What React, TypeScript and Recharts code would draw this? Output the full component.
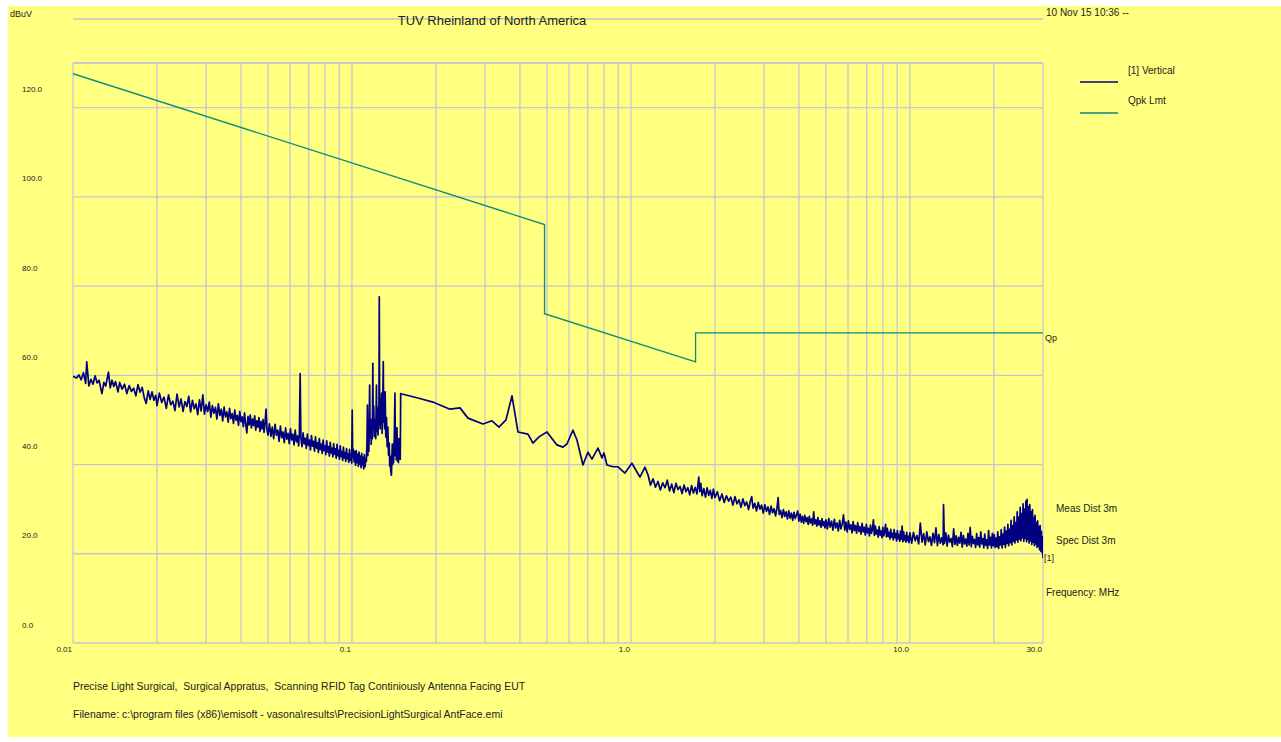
import React from "react";
import { LineChart, Line, XAxis, YAxis, CartesianGrid, ReferenceLine } from "recharts";

// frequency grid (MHz) - log decades with minor lines
const freqGrid = [
  0.01, 0.02, 0.03, 0.04, 0.05, 0.06, 0.07, 0.08, 0.09,
  0.1, 0.2, 0.3, 0.4, 0.5, 0.6, 0.7, 0.8, 0.9,
  1, 2, 3, 4, 5, 6, 7, 8, 9,
  10, 20, 30,
];
const freqMajor = [0.01, 0.1, 1, 10, 30];
const freqLabels = ["0.01", "0.1", "1.0", "10.0", "30.0"];

const levelTicks = [0, 20, 40, 60, 80, 100, 120];
const levelLabels = ["0.0", "20.0", "40.0", "60.0", "80.0", "100.0", "120.0"];

// Qpk limit, dBuV/m at 3m
const limitPoints: [number, number][] = [
  [0.01, 127.6], [0.49, 93.8], [0.49, 73.8], [1.705, 63.0], [1.705, 69.5], [30, 69.5],
];

// [1] Vertical sweep: 10 kHz - 150 kHz
const sweepLow: [number, number][] = [
  [0.0100, 59.8], [0.0103, 59.4], [0.0105, 60.1], [0.0107, 59.0], [0.0109, 60.6], [0.0111, 58.2],
  [0.0112, 63.0], [0.0114, 57.6], [0.0116, 59.1], [0.0118, 58.0], [0.0120, 59.9], [0.0122, 58.3],
  [0.0124, 58.9], [0.0126, 56.8], [0.0127, 55.9], [0.0129, 58.4], [0.0131, 57.6], [0.0134, 60.7],
  [0.0136, 57.2], [0.0138, 58.9], [0.0140, 57.5], [0.0142, 58.6], [0.0145, 56.3], [0.0147, 58.4],
  [0.0150, 56.9], [0.0153, 58.0], [0.0156, 55.9], [0.0159, 57.7], [0.0162, 56.4], [0.0165, 57.1],
  [0.0168, 55.4], [0.0171, 57.9], [0.0174, 56.2], [0.0177, 57.3], [0.0180, 55.0], [0.0183, 53.7],
  [0.0186, 56.5], [0.0189, 54.6], [0.0192, 56.3], [0.0195, 54.4], [0.0198, 55.5],
  [0.0200, 53.2], [0.0204, 56.0], [0.0208, 53.9], [0.0212, 55.1], [0.0216, 52.6], [0.0220, 55.6],
  [0.0224, 53.4], [0.0228, 54.2], [0.0232, 52.1], [0.0236, 55.8], [0.0240, 52.9], [0.0244, 54.7],
  [0.0248, 51.9], [0.0252, 54.1], [0.0256, 53.0], [0.0260, 55.3], [0.0264, 51.8], [0.0268, 54.4],
  [0.0272, 52.5], [0.0276, 53.6], [0.0280, 51.2], [0.0284, 54.5], [0.0288, 52.0], [0.0292, 55.6],
  [0.0296, 51.3], [0.0300, 53.4], [0.0304, 51.9], [0.0308, 54.0], [0.0312, 50.6], [0.0316, 53.2],
  [0.0320, 51.5], [0.0324, 52.8], [0.0328, 50.2], [0.0332, 53.6], [0.0336, 51.0], [0.0340, 52.4],
  [0.0344, 49.8], [0.0348, 52.9], [0.0352, 50.7], [0.0356, 51.8], [0.0360, 49.5], [0.0364, 52.6],
  [0.0368, 50.3], [0.0372, 51.4], [0.0376, 49.2], [0.0380, 52.2], [0.0384, 49.9], [0.0388, 51.0],
  [0.0392, 48.8], [0.0396, 51.9], [0.0400, 49.6], [0.0404, 50.7], [0.0408, 48.5], [0.0412, 51.6],
  [0.0416, 49.0], [0.0420, 47.1], [0.0424, 50.8], [0.0428, 48.9], [0.0432, 51.1], [0.0436, 48.2],
  [0.0440, 50.2], [0.0444, 48.7], [0.0448, 50.9], [0.0452, 47.7], [0.0456, 49.8], [0.0460, 48.4],
  [0.0464, 50.5], [0.0468, 47.4], [0.0472, 49.6], [0.0476, 48.0], [0.0480, 50.1], [0.0484, 47.2],
  [0.0488, 49.3], [0.0492, 52.4], [0.0496, 47.8], [0.0500, 46.6],
  [0.0506, 49.1], [0.0512, 46.3], [0.0518, 48.4], [0.0524, 45.8], [0.0530, 49.0], [0.0536, 46.6],
  [0.0542, 47.7], [0.0548, 45.2], [0.0554, 48.6], [0.0560, 46.0], [0.0566, 47.3], [0.0572, 44.9],
  [0.0578, 48.2], [0.0584, 45.7], [0.0590, 47.0], [0.0596, 44.7], [0.0602, 48.0], [0.0608, 45.5],
  [0.0614, 46.8], [0.0620, 44.4], [0.0626, 47.7], [0.0632, 45.1], [0.0638, 46.4], [0.0644, 44.2],
  [0.0648, 47.3], [0.0652, 60.4], [0.0656, 46.0], [0.0662, 44.0], [0.0668, 47.1], [0.0674, 44.6],
  [0.0680, 45.9], [0.0686, 43.6], [0.0692, 46.8], [0.0698, 44.3], [0.0704, 45.5], [0.0710, 43.3],
  [0.0716, 46.5], [0.0722, 44.1], [0.0728, 45.2], [0.0734, 43.0], [0.0740, 46.2], [0.0746, 43.7],
  [0.0752, 44.9], [0.0758, 42.7], [0.0764, 45.8], [0.0770, 43.4], [0.0776, 44.6], [0.0782, 42.5],
  [0.0788, 45.5], [0.0794, 43.1], [0.0800, 44.2], [0.0806, 42.2], [0.0812, 45.3], [0.0818, 42.8],
  [0.0824, 44.0], [0.0830, 41.9], [0.0836, 45.0], [0.0842, 42.6], [0.0848, 43.7], [0.0854, 41.7],
  [0.0860, 44.7], [0.0866, 42.3], [0.0872, 43.5], [0.0878, 41.4], [0.0884, 44.5], [0.0890, 42.0],
  [0.0896, 43.2], [0.0902, 41.2], [0.0908, 44.2], [0.0914, 41.8], [0.0920, 42.9], [0.0926, 40.9],
  [0.0932, 43.9], [0.0938, 41.5], [0.0944, 42.7], [0.0950, 40.7], [0.0956, 43.6], [0.0962, 41.3],
  [0.0968, 42.4], [0.0974, 40.5], [0.0980, 43.4], [0.0986, 41.0], [0.0992, 42.2], [0.0998, 40.3],
  [0.1002, 52.2], [0.1006, 41.6],
  [0.1012, 43.4], [0.1018, 40.6], [0.1024, 42.9], [0.1030, 39.8], [0.1036, 43.1], [0.1042, 40.4],
  [0.1048, 42.3], [0.1054, 39.6], [0.1060, 42.8], [0.1066, 40.1], [0.1072, 41.9], [0.1078, 39.3],
  [0.1084, 42.5], [0.1090, 39.9], [0.1096, 41.6], [0.1102, 39.0], [0.1108, 42.2], [0.1114, 39.5],
  [0.1120, 41.3], [0.1126, 40.7], [0.1132, 45.1], [0.1136, 53.3], [0.1140, 42.0], [0.1145, 47.5],
  [0.1150, 43.0], [0.1157, 57.8], [0.1162, 46.0], [0.1167, 50.2], [0.1172, 44.5], [0.1178, 49.0],
  [0.1183, 45.8], [0.1188, 62.7], [0.1192, 48.0], [0.1197, 53.1], [0.1203, 46.3], [0.1210, 50.0],
  [0.1217, 45.8], [0.1224, 57.8], [0.1229, 47.4], [0.1235, 51.9], [0.1240, 46.6], [0.1245, 53.0],
  [0.1249, 49.0], [0.1253, 77.6], [0.1257, 50.2], [0.1262, 48.0], [0.1267, 54.6], [0.1272, 49.3],
  [0.1277, 56.0], [0.1283, 47.0], [0.1289, 52.5], [0.1295, 63.1], [0.1299, 49.5], [0.1304, 54.0],
  [0.1310, 48.0], [0.1315, 56.3], [0.1322, 46.2], [0.1330, 50.5], [0.1337, 44.0], [0.1345, 48.4],
  [0.1352, 42.1], [0.1360, 44.8], [0.1366, 39.6], [0.1372, 41.9], [0.1378, 38.4], [0.1385, 37.6],
  [0.1390, 41.5], [0.1395, 44.6], [0.1400, 40.0], [0.1405, 43.2], [0.1410, 40.4], [0.1418, 46.0],
  [0.1426, 56.0], [0.1431, 42.0], [0.1436, 47.0], [0.1442, 41.1], [0.1450, 48.3], [0.1456, 40.8],
  [0.1462, 44.2], [0.1468, 40.4], [0.1474, 45.8], [0.1480, 41.6], [0.1486, 44.7], [0.1490, 41.2],
];

// 150 kHz - 1.15 MHz
const sweepMid: [number, number][] = [
  [0.1495, 55.9], [0.1511, 55.8], [0.175, 54.8], [0.1951, 54.0], [0.2245, 52.4], [0.2439, 52.7],
  [0.2605, 50.4], [0.2948, 49.1], [0.3176, 49.8], [0.3365, 48.4], [0.3565, 50.0], [0.3746, 55.4],
  [0.3936, 47.3], [0.4274, 46.8], [0.4454, 44.8], [0.4681, 46.2], [0.5000, 47.3], [0.5430, 44.4],
  [0.5705, 43.9], [0.5896, 44.6], [0.6196, 47.7], [0.6405, 45.5], [0.6730, 39.9], [0.7014, 42.8],
  [0.7249, 41.2], [0.7617, 43.7], [0.7874, 41.5], [0.8005, 42.6], [0.8203, 39.9], [0.8619, 39.5],
  [0.8982, 39.5], [0.9517, 38.1], [1.008, 40.3], [1.077, 37.2], [1.123, 39.4], [1.151, 37.7],
];

// 1.15 MHz - 30 MHz
const sweepHigh: [number, number][] = [
  [1.175, 35.4], [1.20, 36.8], [1.225, 34.9], [1.25, 36.2], [1.275, 34.3], [1.30, 35.9], [1.325, 34.8],
  [1.35, 36.5], [1.375, 34.1], [1.40, 35.6], [1.425, 33.7], [1.45, 35.8], [1.475, 34.4], [1.50, 35.1],
  [1.525, 33.5], [1.55, 35.4], [1.575, 33.9], [1.60, 34.8], [1.625, 33.2], [1.65, 35.3], [1.675, 33.6],
  [1.70, 34.9], [1.725, 33.4], [1.75, 37.2], [1.765, 33.9], [1.78, 35.8], [1.80, 33.0], [1.825, 34.6],
  [1.85, 32.7], [1.875, 34.8], [1.90, 33.1], [1.925, 34.2], [1.95, 32.4], [1.975, 34.5], [2.00, 32.6],
  [2.04, 33.9], [2.08, 31.9], [2.12, 33.4], [2.16, 31.5], [2.20, 33.0], [2.24, 31.8], [2.28, 32.7],
  [2.32, 30.9], [2.36, 32.8], [2.40, 31.2], [2.44, 32.1], [2.48, 30.4], [2.52, 32.3], [2.56, 30.8],
  [2.60, 31.6], [2.64, 29.9], [2.68, 31.8], [2.71, 32.8], [2.74, 30.2], [2.78, 31.3], [2.82, 29.6],
  [2.86, 31.5], [2.90, 30.0], [2.94, 30.9], [2.98, 29.1], [3.02, 31.0], [3.06, 29.5], [3.10, 30.5],
  [3.14, 28.8], [3.18, 30.7], [3.22, 29.2], [3.26, 30.1], [3.30, 28.5], [3.34, 30.3], [3.37, 32.6],
  [3.40, 28.8], [3.44, 29.7], [3.48, 28.1], [3.52, 29.9], [3.56, 28.4], [3.60, 29.4], [3.64, 27.8],
  [3.68, 29.6], [3.72, 28.0], [3.76, 29.1], [3.80, 27.5], [3.84, 29.3], [3.88, 27.9], [3.92, 28.7],
  [3.96, 29.6], [4.00, 27.3], [4.04, 28.9], [4.08, 27.1], [4.12, 28.4], [4.16, 26.8], [4.20, 28.6],
  [4.24, 27.2], [4.28, 28.1], [4.32, 26.6], [4.36, 28.4], [4.40, 26.9], [4.44, 27.8], [4.48, 26.4],
  [4.52, 29.4], [4.56, 26.7], [4.60, 27.6], [4.64, 26.2], [4.68, 28.1], [4.72, 26.5], [4.76, 27.4],
  [4.80, 25.9], [4.84, 27.9], [4.88, 26.3], [4.92, 27.2], [4.96, 25.8], [5.00, 27.6],
  [5.06, 25.6], [5.12, 27.9], [5.18, 26.0], [5.24, 27.3], [5.30, 25.3], [5.36, 27.7], [5.42, 25.8],
  [5.48, 26.9], [5.54, 25.1], [5.60, 27.5], [5.66, 25.6], [5.72, 26.7], [5.78, 28.7], [5.84, 25.3],
  [5.90, 27.1], [5.96, 24.9], [6.02, 27.4], [6.08, 25.5], [6.14, 26.5], [6.20, 24.7], [6.26, 27.2],
  [6.32, 25.2], [6.38, 26.3], [6.44, 24.6], [6.50, 27.0], [6.56, 25.0], [6.62, 26.1], [6.68, 24.4],
  [6.74, 26.8], [6.80, 24.9], [6.86, 25.9], [6.92, 24.2], [6.98, 26.6], [7.04, 24.7], [7.10, 25.7],
  [7.16, 24.0], [7.22, 26.4], [7.28, 24.6], [7.34, 25.5], [7.40, 27.6], [7.46, 24.1], [7.52, 26.2],
  [7.58, 24.4], [7.64, 25.3], [7.70, 23.7], [7.76, 26.1], [7.82, 24.2], [7.88, 25.1], [7.94, 23.6],
  [8.00, 25.9], [8.06, 24.0], [8.12, 24.9], [8.18, 26.6], [8.24, 23.8], [8.30, 25.7], [8.36, 23.9],
  [8.42, 24.8], [8.48, 23.3], [8.54, 25.5], [8.60, 23.7], [8.66, 24.6], [8.72, 23.1], [8.78, 25.4],
  [8.84, 23.6], [8.90, 24.5], [8.96, 22.9], [9.02, 25.2], [9.08, 23.4], [9.14, 24.3], [9.20, 22.8],
  [9.26, 25.1], [9.32, 23.3], [9.38, 26.2], [9.44, 22.7], [9.50, 24.9], [9.56, 23.1], [9.62, 24.0],
  [9.68, 22.6], [9.74, 24.8], [9.80, 23.0], [9.86, 23.9], [9.92, 22.5], [10.00, 24.7],
  [10.15, 22.4], [10.30, 24.8], [10.45, 22.9], [10.60, 24.1], [10.75, 22.2], [10.90, 26.9], [11.05, 22.6],
  [11.20, 24.5], [11.35, 22.0], [11.50, 24.9], [11.65, 22.7], [11.80, 23.8], [11.95, 21.9], [12.10, 24.6],
  [12.25, 22.5], [12.40, 25.8], [12.55, 21.8], [12.70, 24.3], [12.85, 22.4], [13.00, 23.6], [13.15, 22.0],
  [13.20, 31.0], [13.30, 22.3], [13.45, 24.7], [13.60, 21.7], [13.75, 24.2], [13.90, 22.6], [14.05, 23.4],
  [14.20, 21.6], [14.35, 25.6], [14.50, 22.1], [14.65, 24.0], [14.80, 21.9], [14.95, 23.7], [15.10, 22.4],
  [15.25, 24.8], [15.40, 21.5], [15.55, 24.1], [15.70, 22.2], [15.85, 23.3], [16.00, 21.7], [16.15, 24.6],
  [16.30, 22.0], [16.45, 25.9], [16.60, 21.6], [16.75, 23.9], [16.90, 22.3], [17.05, 23.2], [17.20, 21.4],
  [17.35, 24.5], [17.50, 22.0], [17.65, 23.6], [17.80, 21.5], [17.95, 24.9], [18.10, 22.2], [18.25, 23.4],
  [18.40, 21.3], [18.55, 24.4], [18.70, 21.9], [18.85, 23.1], [19.00, 21.2], [19.15, 25.2], [19.30, 22.0],
  [19.45, 23.7], [19.60, 21.3], [19.75, 24.6], [19.90, 21.8],
  [20.05, 24.3], [20.20, 21.4], [20.35, 23.5], [20.50, 21.6], [20.65, 24.9], [20.80, 21.2], [20.95, 23.8],
  [21.10, 22.0], [21.25, 25.4], [21.40, 21.3], [21.55, 24.4], [21.70, 22.1], [21.85, 26.0], [22.00, 21.4],
  [22.15, 25.1], [22.30, 22.3], [22.45, 26.6], [22.60, 21.8], [22.75, 25.5], [22.90, 22.5], [23.05, 27.5],
  [23.20, 22.0], [23.35, 26.3], [23.50, 22.8], [23.65, 28.3], [23.80, 22.4], [23.95, 27.0], [24.10, 23.1],
  [24.25, 29.4], [24.40, 22.6], [24.55, 28.2], [24.70, 23.3], [24.85, 30.4], [25.00, 22.9], [25.15, 29.0],
  [25.30, 23.6], [25.45, 31.2], [25.60, 22.8], [25.75, 30.0], [25.90, 23.4], [26.05, 31.8], [26.20, 22.7],
  [26.30, 32.2], [26.45, 23.2], [26.60, 30.6], [26.75, 22.4], [26.90, 31.0], [27.05, 22.9], [27.20, 29.4],
  [27.35, 22.1], [27.50, 29.9], [27.65, 22.6], [27.80, 28.1], [27.95, 21.8], [28.10, 28.6], [28.25, 22.2],
  [28.40, 27.0], [28.55, 21.4], [28.70, 27.4], [28.85, 21.7], [29.00, 26.1], [29.15, 20.9], [29.30, 26.3],
  [29.45, 20.6], [29.60, 25.0], [29.75, 20.3], [29.90, 23.8], [30.00, 19.0],
];

const series = [
  { name: "[1] Vertical", color: "#000080" },
  { name: "Qpk Lmt", color: "#0a8a80" },
];

const sweepData = [...sweepLow, ...sweepMid, ...sweepHigh].map(([f, v]) => ({ f, v }));
const limitData = limitPoints.map(([f, v]) => ({ f, v }));

const FONT = '"Liberation Sans", Arial, sans-serif';
const GRID = "#c6c6d2";
const INK = "#222";

const FreqTick = (props: any) => {
  const { x, payload } = props;
  const i = freqMajor.indexOf(payload.value);
  if (i < 0) return null;
  return (
    <text x={x - 1} y={643} textAnchor="end" dominantBaseline="central" fontSize={8} fill={INK} fontFamily={FONT}>
      {freqLabels[i]}
    </text>
  );
};

const LevelTick = (props: any) => {
  const { y, payload } = props;
  const i = levelTicks.indexOf(payload.value);
  if (i < 0) return null;
  return (
    <text x={14} y={y - 18} dominantBaseline="central" fontSize={8} fill={INK} fontFamily={FONT}>
      {levelLabels[i]}
    </text>
  );
};

const pre = { whiteSpace: "pre" as const };

export default function App() {
  return (
    <div
      style={{
        position: "absolute", left: 8, top: 6, width: 1273, height: 731,
        background: "#ffff80", overflow: "hidden", fontFamily: FONT,
      }}
    >
      <LineChart width={1273} height={731} margin={{ top: 57, right: 238, bottom: 64, left: 0 }}>
        <CartesianGrid stroke={GRID} strokeWidth={1.3} />
        <XAxis
          dataKey="f"
          type="number"
          scale="log"
          domain={[0.01, 30]}
          allowDataOverflow
          ticks={freqGrid}
          interval={0}
          tick={<FreqTick />}
          tickLine={false}
          axisLine={false}
          height={30}
        />
        <YAxis
          type="number"
          domain={[0, 130]}
          ticks={levelTicks}
          interval={0}
          tick={<LevelTick />}
          tickLine={false}
          axisLine={false}
          width={65}
        />
        <ReferenceLine y={130} stroke={GRID} strokeWidth={1.3} />
        <Line
          data={limitData}
          dataKey="v"
          name={series[1].name}
          stroke={series[1].color}
          strokeWidth={1.3}
          dot={false}
          type="linear"
          isAnimationActive={false}
        />
        <Line
          data={sweepData}
          dataKey="v"
          name={series[0].name}
          stroke={series[0].color}
          strokeWidth={1.7}
          strokeLinejoin="round"
          dot={false}
          type="linear"
          isAnimationActive={false}
        />
      </LineChart>

      <svg
        width={1273}
        height={731}
        style={{ position: "absolute", left: 0, top: 0, pointerEvents: "none" }}
      >
        <g transform="translate(-8,-6)" fontFamily={FONT} fill={INK}>
          <line x1={73} x2={1043} y1={19} y2={19} stroke="#c4c4c4" strokeWidth={1.5} />
          <text x={10} y={14} fontSize={9} dominantBaseline="central">dBuV</text>
          <text x={492} y={20} fontSize={13} textAnchor="middle" dominantBaseline="central">
            TUV Rheinland of North America
          </text>
          <text x={1046} y={15.5} fontSize={10}>10 Nov 15 10:36 --</text>

          {series.map((s, i) => (
            <g key={s.name}>
              <text x={1128} y={70 + i * 30} fontSize={10} dominantBaseline="central">{s.name}</text>
              <line x1={1080} x2={1118} y1={82 + i * 31} y2={82 + i * 31} stroke={s.color} strokeWidth={1.5} />
            </g>
          ))}

          <text x={1045} y={338} fontSize={9} dominantBaseline="central">Qp</text>
          <text x={1056} y={508} fontSize={10} dominantBaseline="central">Meas Dist 3m</text>
          <text x={1056} y={540} fontSize={10} dominantBaseline="central">Spec Dist 3m</text>
          <text x={1044} y={558} fontSize={9} dominantBaseline="central">[1]</text>
          <text x={1046} y={592} fontSize={10} dominantBaseline="central">Frequency: MHz</text>

          <text x={73} y={686} fontSize={10.5} dominantBaseline="central" xmlSpace="preserve" style={pre}>
            {"Precise Light Surgical,  Surgical Appratus,  Scanning RFID Tag Continiously Antenna Facing EUT"}
          </text>
          <text x={73} y={714} fontSize={10.5} dominantBaseline="central" xmlSpace="preserve" style={pre}>
            {"Filename: c:\\program files (x86)\\emisoft - vasona\\results\\PrecisionLightSurgical AntFace.emi"}
          </text>
        </g>
      </svg>
    </div>
  );
}
